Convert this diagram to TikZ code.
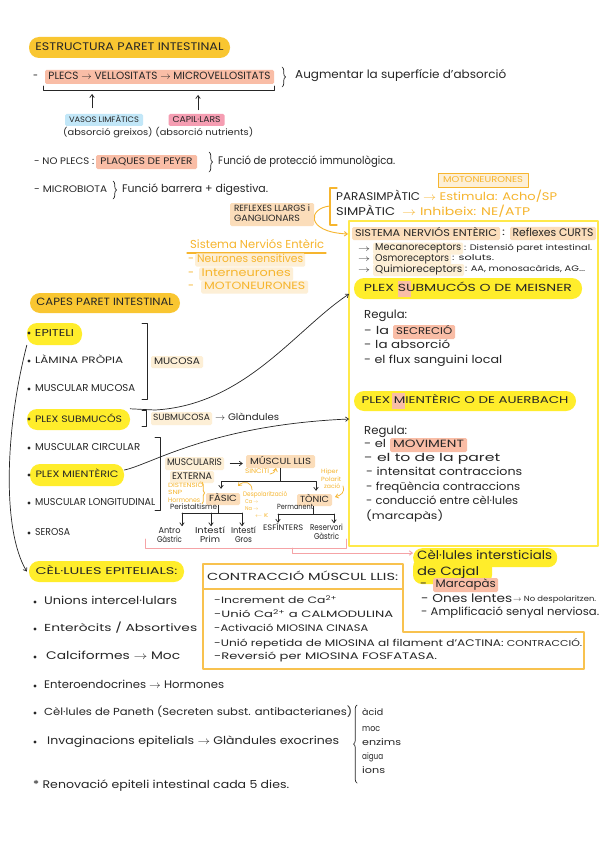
\documentclass[tikz,border=0pt]{standalone}
\usepackage{fontspec}
\setmainfont{Poppins}
\usepackage{graphicx}
\usetikzlibrary{decorations.pathreplacing,arrows.meta,calc}
\definecolor{ink}{HTML}{262626}
\definecolor{gold}{HTML}{F9C631}
\definecolor{yel}{HTML}{FFED2B}
\definecolor{salmon}{HTML}{F9BDA6}
\definecolor{peach}{HTML}{FBDDBA}
\definecolor{cream2}{HTML}{FDEFD6}
\definecolor{lblue}{HTML}{C2E7F8}
\definecolor{pinkc}{HTML}{F59DB2}
\definecolor{otxt}{HTML}{F6B52E}
\definecolor{ybord}{HTML}{FFE94A}
\definecolor{obord}{HTML}{F8C24F}
\definecolor{pinkl}{HTML}{F5A3A6}
\newlength\hwh
\newcommand\hw[3]{\setlength\hwh{#1pt}\hwh=1.2\hwh\resizebox*{#2pt}{\hwh}{\fontsize{10}{12}\selectfont\strut #3}}
\begin{document}
\begin{tikzpicture}[x=1pt,y=-1pt,line cap=round,line join=round,
  >={Straight Barb[length=3pt,width=4.5pt]},
  tx/.style={anchor=west,inner sep=0pt,text=ink},
  cx/.style={inner sep=0pt,text=ink},
  hbox/.style={inner sep=0pt,rounded corners=1.5pt,text=ink},
  pill/.style={inner sep=0pt,rounded corners=10pt,text=ink},
  ln/.style={draw=ink,line width=0.7pt},
  oline/.style={draw=otxt,line width=0.9pt},
  obr/.style={decorate,decoration={brace,amplitude=3.5pt},draw=ink,line width=0.7pt},
  obox/.style={draw=obord,line width=1.2pt},
  pinkline/.style={draw=pinkl,line width=0.9pt},
  bul/.style={fill=ink}]
\fill[white] (0,0) rectangle (600,848);
\useasboundingbox (0,0) rectangle (600,848);

% ---------- header ----------
\node[pill,fill=gold,minimum width=201,minimum height=21] (title) at (129.5,47.5) {\hw{11}{188}{ESTRUCTURA PARET INTESTINAL}};
\node[tx] (dash1) at (33,77) {\hw{11}{5}{-}};
\node[hbox,fill=salmon,minimum width=229,minimum height=14] (plecs) at (159.5,77) {\hw{10.5}{222}{PLECS $\to$ VELLOSITATS $\to$ MICROVELLOSITATS}};
\draw[obr] (282,67) -- (282,87);
\node[tx] (aug) at (295,76) {\hw{11.5}{211}{Augmentar la superfície d'absorció}};
\coordinate (ubL) at (43,86);
\coordinate (ubR) at (274,86);
\draw[ln] (ubL) -- (43,90) -- (274,90) -- (ubR);
\node[hbox,fill=lblue,minimum width=78,minimum height=12] (vasos) at (104,120) {\hw{8.5}{70}{VASOS LIMFÀTICS}};
\node[hbox,fill=pinkc,minimum width=56,minimum height=12] (capil) at (196.5,120) {\hw{8.5}{48}{CAPIL·LARS}};
\coordinate (ua1) at (92,94);
\coordinate (ua2) at (198,95);
\draw[ln,->] ([xshift=-12pt,yshift=6pt]vasos.north) -- (ua1);
\draw[ln,->] ([xshift=1.5pt,yshift=4pt]capil.north) -- (ua2);
\node[tx] (absg) at (63,133) {\hw{9.5}{190}{(absorció greixos) (absorció nutrients)}};

\node[tx] (noplecs) at (34,162) {\hw{9.5}{60}{- NO PLECS :}};
\node[hbox,fill=salmon,minimum width=101,minimum height=14] (peyer) at (146.5,162) {\hw{9.5}{92}{PLAQUES DE PEYER}};
\draw[obr] (209,152) -- (209,172);
\node[tx] (immu) at (218,162) {\hw{11}{177}{Funció de protecció immunològica.}};

\node[tx] (micro) at (34,190) {\hw{9.5}{73}{- MICROBIOTA}};
\draw[obr] (113,181) -- (113,199);
\node[tx] (barrera) at (122,190) {\hw{11}{146}{Funció barrera + digestiva.}};

% ---------- nervous system ----------
\node[hbox,fill=cream2,draw=otxt,line width=0.8pt,rounded corners=0pt,minimum width=90,minimum height=14] (moto1) at (483,180) {\hw{8.5}{80}{\color{otxt}MOTONEURONES}};
\node[tx] (para1) at (336,197) {\hw{12}{84}{PARASIMPÀTIC}};
\node[tx] (para2) at (423,197) {\hw{12}{134}{\color{otxt}$\to$ Estimula: Acho/SP}};
\node[tx] (simp1) at (336,212) {\hw{12}{59}{SIMPÀTIC}};
\node[tx] (simp2) at (402,212) {\hw{12}{128}{\color{otxt}$\to$ Inhibeix: NE/ATP}};
\draw[oline,line width=1.2pt] (337,188) -- (330,188) -- (330,225) -- (337,225);
\coordinate (brk) at (330,206);
\node[hbox,fill=peach,minimum width=84,minimum height=23,align=left] (reflex) at (272,214.5) {\hw{9}{76}{REFLEXES LLARGS i}\\[-2pt]\hw{9}{66}{GANGLIONARS}};
\node[draw=ybord,line width=1.2pt,minimum width=249,minimum height=325,inner sep=0pt] (snebox) at (473.5,383.5) {};
\coordinate (sneIn) at (348,234);
\draw[oline,->] (brk) .. controls (308,208) and (305,232) .. (sneIn);

\node[tx] (snetit) at (190,246) {\hw{11.5}{134}{\color{otxt}Sistema Nerviós Entèric}};
\draw[oline,line width=1.2pt] (187,253) -- (326,253);
\node[tx] (dns) at (188,260) {\hw{11}{6}{\color{otxt}-}};
\node[hbox,fill=cream2,minimum width=110,minimum height=12,anchor=west] (ns) at (195,260) {\hw{11}{106}{\color{otxt}Neurones sensitives}};
\node[tx] (din) at (188,274) {\hw{11}{6}{\color{otxt}-}};
\node[hbox,fill=cream2,minimum width=94,minimum height=13,anchor=west] (inter) at (199,274) {\hw{11}{89}{\color{otxt}Interneurones}};
\node[tx] (dmo) at (188,287) {\hw{11}{6}{\color{otxt}-}};
\node[hbox,fill=cream2,minimum width=107,minimum height=13,anchor=west] (moto2) at (201,287) {\hw{10.5}{101}{\color{otxt}MOTONEURONES}};

\node[hbox,fill=peach,minimum width=148,minimum height=13] (snelab) at (426,233.5) {\hw{10.5}{142}{SISTEMA NERVIÓS ENTÈRIC}};
\node[tx] (colon) at (502,233) {\hw{10}{3}{:}};
\node[hbox,fill=peach,minimum width=86,minimum height=13] (curts) at (553,233.5) {\hw{11}{81}{Reflexes CURTS}};
\node[tx] (ar1) at (358,249) {\hw{9}{12}{$\to$}};
\node[hbox,fill=cream2,minimum width=90,minimum height=11,anchor=west] (mecano) at (373,248.5) {\hw{10}{86}{Mecanoreceptors}};
\node[tx] (mecanot) at (464,249) {\hw{8}{128}{: Distensió paret intestinal.}};
\node[tx] (ar2) at (358,259) {\hw{9}{12}{$\to$}};
\node[hbox,fill=cream2,minimum width=78,minimum height=11,anchor=west] (osmo) at (373,259) {\hw{10}{74}{Osmoreceptors}};
\node[tx] (osmot) at (452,259) {\hw{8}{42}{: soluts.}};
\node[tx] (ar3) at (358,270) {\hw{9}{12}{$\to$}};
\node[hbox,fill=cream2,minimum width=91,minimum height=11,anchor=west] (quimio) at (373,270) {\hw{10}{87}{Quimioreceptors}};
\node[tx] (quimiot) at (465,270) {\hw{8}{120}{: AA, monosacàrids, AG...}};

\node[pill,fill=yel,minimum width=228,minimum height=21] (meisbg) at (468,288.5) {};
\fill[salmon] (398,281) rectangle (411,297);
\node[cx] (meisner) at (meisbg) {\hw{11}{208}{PLEX SUBMUCÓS O DE MEISNER}};
\node[tx] (reg1) at (364,316) {\hw{11.5}{43}{Regula:}};
\node[tx] (la1) at (364,332) {\hw{11}{25}{- la}};
\node[hbox,fill=salmon,minimum width=62,minimum height=14,anchor=west] (secr) at (393,332) {\hw{10.5}{56}{SECRECIÓ}};
\node[tx] (absr) at (364,346) {\hw{11}{86}{- la absorció}};
\node[tx] (flux) at (364,361) {\hw{11}{138}{- el flux sanguini local}};

\node[pill,fill=yel,minimum width=222,minimum height=20] (auerbg) at (465,401) {};
\fill[salmon] (392,393) rectangle (405,409);
\node[cx] (auer) at (auerbg) {\hw{10.5}{207}{PLEX MIENTÈRIC O DE AUERBACH}};
\node[tx] (reg2) at (364,432) {\hw{11.5}{43}{Regula:}};
\node[tx] (el1) at (364,445) {\hw{11}{22}{- el}};
\node[hbox,fill=salmon,minimum width=77,minimum height=14] (movi) at (428.5,445) {\hw{10.5}{71}{MOVIMENT}};
\node[tx] (to) at (364,459) {\hw{11}{136}{- el to de la paret}};
\node[tx] (inten) at (366,473) {\hw{11}{156}{- intensitat contraccions}};
\node[tx] (freq) at (366,488) {\hw{11}{154}{- freqüència contraccions}};
\node[tx] (cond) at (366,502) {\hw{11}{152}{- conducció entre cèl·lules}};
\node[tx] (marcp) at (366,517) {\hw{11}{77}{(marcapàs)}};

% ---------- layers ----------
\node[pill,fill=gold,minimum width=150,minimum height=20] (capes) at (105,303) {\hw{10.5}{137}{CAPES PARET INTESTINAL}};
\node[pill,fill=yel,minimum width=55,minimum height=22] (epi) at (54.5,334) {\hw{10}{39}{EPITELI}};
\fill[bul] (29,333) circle (1.6);
\fill[bul] (29,361) circle (1.6);
\node[tx] (lam) at (35,361) {\hw{10}{88}{LÀMINA PRÒPIA}};
\fill[bul] (29,389) circle (1.6);
\node[tx] (mmuc) at (35,389) {\hw{10}{100}{MUSCULAR MUCOSA}};
\draw[ln] (142,323) -- (147,323) -- (147,399) -- (142,399);
\node[hbox,fill=cream2,minimum width=52,minimum height=12] (mucosa) at (177,362) {\hw{9.5}{46}{MUCOSA}};
\node[pill,fill=yel,minimum width=103,minimum height=21] (psub) at (78.5,419.5) {\hw{10}{87}{PLEX SUBMUCÓS}};
\fill[bul] (29,419) circle (1.6);
\draw[ln] (142,410) -- (146,410) -- (146,426) -- (142,426);
\node[hbox,fill=cream2,minimum width=61,minimum height=13] (submuc) at (181.5,418.5) {\hw{9}{57}{SUBMUCOSA}};
\node[tx] (gland) at (215,418) {\hw{9.5}{64}{$\to$ Glàndules}};
\fill[bul] (29,448) circle (1.6);
\node[tx] (mcirc) at (35,448) {\hw{10}{105}{MUSCULAR CIRCULAR}};
\node[pill,fill=yel,minimum width=94,minimum height=22] (pmien) at (77,475) {\hw{10}{83}{PLEX MIENTÈRIC}};
\fill[bul] (29,475) circle (1.6);
\fill[bul] (29,503) circle (1.6);
\node[tx] (mlong) at (35,503) {\hw{10}{120}{MUSCULAR LONGITUDINAL}};
\draw[ln] (155,437) -- (160,437) -- (160,510) -- (155,510);
\fill[bul] (29,533) circle (1.6);
\node[tx] (serosa) at (35,533) {\hw{10}{35}{SEROSA}};

\coordinate (meisIn) at (349,294);
\coordinate (auerIn) at (349,419);
\draw[ln,->] (psub.north east) -- (155,410) .. controls (245,405) and (295,330) .. (meisIn);
\draw[ln,->] ([yshift=5pt]pmien.east) .. controls (150,465) and (210,425) .. (auerIn);

% ---------- smooth muscle ----------
\node[hbox,fill=cream2,minimum width=59,minimum height=13] (muscularis) at (194.5,463.5) {\hw{9.5}{55}{MUSCULARIS}};
\node[hbox,fill=cream2,minimum width=44,minimum height=12] (externa) at (192,477) {\hw{9.5}{40}{EXTERNA}};
\node[hbox,fill=peach,minimum width=69,minimum height=13] (mllis) at (280.5,461.5) {\hw{9.5}{61}{MÚSCUL LLIS}};
\draw[ln,->] ([xshift=6pt]muscularis.east) -- ([xshift=-3pt]mllis.west |- muscularis.east);
\node[tx] (sinc) at (245,472) {\hw{6.5}{24}{\color{otxt}SINCITI}};
\draw[oline,line width=0.7pt,->] (270,474) .. controls (273,474) and (275,472) .. (276,468);
\node[hbox,fill=peach,minimum width=34,minimum height=12] (fasic) at (223,499) {\hw{9.5}{28}{FÀSIC}};
\node[hbox,fill=peach,minimum width=35,minimum height=12] (tonic) at (314.5,500) {\hw{9.5}{29}{TÒNIC}};
\draw[ln] (mllis.south) -- ++(0,13) coordinate (mj);
\draw[ln,->] (mj) -| ([xshift=-2pt,yshift=4pt]fasic.north);
\draw[ln,->] (mj) -| ([xshift=1.5pt,yshift=3pt]tonic.north);

\node[tx] (dist) at (168,486) {\hw{6.5}{35}{\color{otxt}DISTENSIÓ}};
\node[tx] (snp) at (168,493.5) {\hw{6}{14}{\color{otxt}SNP}};
\node[tx] (horm) at (168,501) {\hw{6.5}{32}{\color{otxt}Hormones}};
\draw[decorate,decoration={brace,amplitude=2.5pt},draw=otxt,line width=0.8pt] (202,482) -- (202,504);
\node[tx] (despol) at (243,495) {\hw{6.5}{44}{\color{otxt}Despolarització}};
\node[tx] (ca) at (245,502.6) {\hw{5.5}{13}{\color{otxt}Ca $\to$}};
\node[tx] (na) at (245,509.3) {\hw{5.5}{13}{\color{otxt}Na $\to$}};
\node[tx] (kk) at (255,516) {\hw{5.5}{13}{\color{otxt}$\leftarrow$ K}};
\draw[oline,line width=0.7pt,->] (252,490) .. controls (252,482) and (244,480) .. (238,486);
\node[tx] (hip1) at (321,472.5) {\hw{6}{17}{\color{otxt}Hiper}};
\node[tx] (hip2) at (321,480) {\hw{6}{20}{\color{otxt}Polarit}};
\node[tx] (hip3) at (324,487.5) {\hw{6}{16}{\color{otxt}zació}};
\draw[oline,line width=0.7pt,->] (343,486) .. controls (345,493) and (341,495) .. (335,497);

\node[tx] (peri) at (170,508) {\hw{7.5}{47}{Peristaltisme}};
\node[tx] (perm) at (277,508) {\hw{7.5}{36}{Permanent}};
\draw[ln] ([xshift=-5pt]fasic.south) -- ++(0,8) coordinate (fj);
\coordinate (fl) at (182,513);
\coordinate (fm) at (211,513);
\coordinate (fr) at (242,513);
\draw[ln] (fl) -- (fr);
\node[cx,align=center] (antro) at (169.5,536) {\hw{8.5}{22}{Antro}\\[-3pt]\hw{8.5}{25}{Gàstric}};
\node[cx,align=center] (iprim) at (210,536) {\hw{8.5}{30}{Intestí}\\[-3pt]\hw{8.5}{20}{Prim}};
\node[cx,align=center] (igros) at (243.5,536) {\hw{8.5}{25}{Intestí}\\[-3pt]\hw{8.5}{17}{Gros}};
\draw[ln,->] (fl) -- (fl |- antro.north);
\draw[ln,->] (fm) -- (fm |- iprim.north);
\draw[ln,->] (fr) -- (fr |- igros.north);
\draw[ln] ([xshift=-1.5pt]tonic.south) -- ++(0,8) coordinate (tj);
\coordinate (tl) at (278,514);
\coordinate (tr) at (334,514);
\draw[ln] (tl) -- (tr);
\node[tx] (esf) at (263,528) {\hw{8.5}{40}{ESFÍNTERS}};
\node[cx,align=center] (reserv) at (326.5,533) {\hw{8.5}{33}{Reservori}\\[-3pt]\hw{8.5}{25}{Gàstric}};
\draw[ln,->] (tl) -- (tl |- esf.north);
\draw[ln,->] (tr) -- (tr |- reserv.north);

% ---------- Cajal ----------
\node[pill,fill=yel,minimum width=144,minimum height=19,anchor=north west,rounded corners=9pt] (cajal) at (413,548) {};
\fill[yel,rounded corners=9pt] (413,558) rectangle (492,584);
\node[tx] (caj1) at (417,557) {\hw{12}{135}{Cèl·lules intersticials}};
\node[tx] (caj2) at (417,573) {\hw{12}{62}{de Cajal}};
\node[tx] (dm) at (420,585) {\hw{11}{7}{-}};
\node[hbox,fill=salmon,minimum width=65,minimum height=14,anchor=west] (marc) at (433,585) {\hw{11}{60}{Marcapàs}};
\node[tx] (ones) at (421,600) {\hw{11.5}{91}{- Ones lentes}};
\node[tx] (nodesp) at (513,600) {\hw{7.5}{83}{$\to$ No despolaritzen.}};
\node[tx] (ampl) at (421,613) {\hw{11}{178}{- Amplificació senyal nerviosa.}};
\coordinate (cajIn) at (413,553);
\draw[pinkline] (145,539) -- (145,548) -- (346,548) -- (346,539);
\draw[pinkline,->] (292,548) -- (292,553) -- (cajIn);

% ---------- epithelial cells ----------
\node[pill,fill=yel,minimum width=155,minimum height=21] (cel) at (106.5,571.5) {\hw{10.5}{142}{CÈL·LULES EPITELIALS:}};
\draw[ln,->] (epi.south west) .. controls (5,430) and (2,530) .. ([xshift=-2pt]cel.west);
\fill[bul] (35,602) circle (1.6);
\node[tx] (unions) at (44,602) {\hw{11}{133}{Unions intercel·lulars}};
\fill[bul] (35,629) circle (1.6);
\node[tx] (entero) at (44,629) {\hw{11}{153}{Enteròcits / Absortives}};
\fill[bul] (35,657) circle (1.6);
\node[tx] (calci) at (46,657) {\hw{11}{134}{Calciformes $\to$ Moc}};
\fill[bul] (35,686) circle (1.6);
\node[tx] (endo) at (44,686) {\hw{11}{180}{Enteroendocrines $\to$ Hormones}};
\fill[bul] (35,713) circle (1.6);
\node[tx] (paneth) at (44,713) {\hw{11}{308}{Cèl·lules de Paneth (Secreten subst. antibacterianes)}};
\fill[bul] (35,742) circle (1.6);
\node[tx] (invag) at (47,742) {\hw{11}{292}{Invaginacions epitelials $\to$ Glàndules exocrines}};
\draw[obr] (357,783) -- (357,705);
\node[tx] (acid) at (362,713) {\hw{9}{21}{àcid}};
\node[tx] (moc) at (362,729) {\hw{9}{18}{moc}};
\node[tx] (enz) at (362,743) {\hw{9}{39}{enzims}};
\node[tx] (aigua) at (362,757) {\hw{9}{21}{aigua}};
\node[tx] (ions) at (362,771) {\hw{9}{23}{ions}};
\node[tx] (renov) at (33,786) {\hw{11}{256}{* Renovació epiteli intestinal cada 5 dies.}};

% ---------- contraction ----------
\draw[obox] (203,564) -- (403,564) -- (403,632) -- (584,632) -- (584,669) -- (203,669) -- cycle;
\draw[obox] (203,589) -- (403,589);
\node[tx] (contr) at (207,578) {\hw{11}{191}{CONTRACCIÓ MÚSCUL LLIS:}};
\node[tx] (c1) at (214,601) {\hw{9.5}{123}{-Increment de Ca\textsuperscript{2+}}};
\node[tx] (c2) at (214,615) {\hw{9.5}{179}{-Unió Ca\textsuperscript{2+} a CALMODULINA}};
\node[tx] (c3) at (214,629) {\hw{9.5}{154}{-Activació MIOSINA CINASA}};
\node[tx] (c4) at (214,644) {\hw{9.5}{368}{-Unió repetida de MIOSINA al filament d'ACTINA: {\small CONTRACCIÓ.}}};
\node[tx] (c5) at (214,657) {\hw{9.5}{223}{-Reversió per MIOSINA FOSFATASA.}};
\end{tikzpicture}
\end{document}
